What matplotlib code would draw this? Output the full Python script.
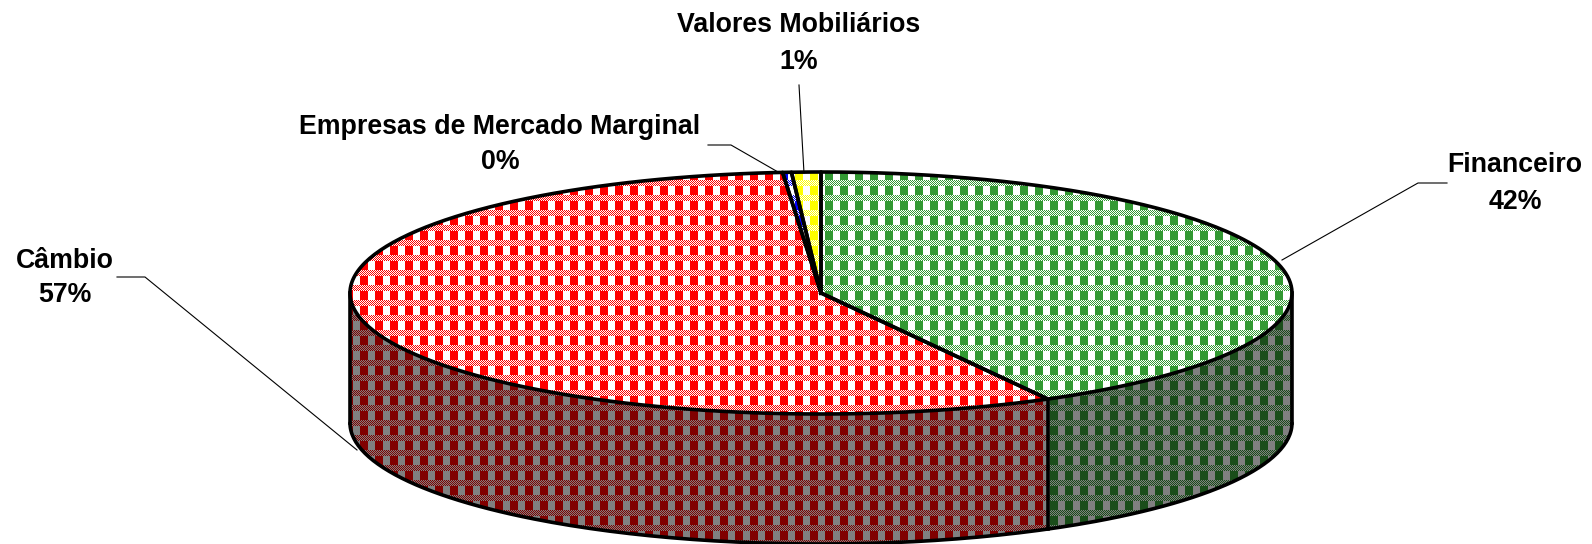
import numpy as np
import matplotlib
matplotlib.use('Agg')
import matplotlib.pyplot as plt
from matplotlib.path import Path
from matplotlib.patches import PathPatch

# ---- data ----
labels = ['Financeiro', 'Câmbio', 'Empresas de Mercado Marginal', 'Valores Mobiliários']
values = [42.0, 56.7, 0.3, 1.0]
top_colors = [(51, 153, 51), (255, 0, 0), (0, 0, 255), (255, 255, 0)]
side_colors = [(26, 77, 26), (128, 0, 0), (0, 0, 128), (128, 128, 0)]

# ---- layout (pixel coordinates) ----
W, H = 1592, 544
cx, cy, a, b, depth = 821, 293, 471, 121, 130
label_pos = {
    'Financeiro': (1515, 165, 202),
    'Câmbio': (65, 261, 295),
    'Empresas de Mercado Marginal': (500, 127, 162),
    'Valores Mobiliários': (799, 25, 62),
}
leaders = {
    'Financeiro': [(1447, 183), (1418, 183), (1282, 260)],
    'Câmbio': [(117, 277), (145, 277), (357, 450)],
    'Empresas de Mercado Marginal': [(708, 145), (731, 145), (778, 172)],
    'Valores Mobiliários': [(799, 85), (804, 173)],
}

fig = plt.figure(figsize=(W / 100, H / 100), dpi=100)
ax = fig.add_axes([0, 0, 1, 1])
ax.set_xlim(0, W)
ax.set_ylim(H, 0)
ax.axis('off')

yy, xx = np.mgrid[0:H, 0:W]
P = 15
col = (xx % P) < 8
band = (yy % P) < 6
dither = ((xx + yy) % 2) == 0
pat = np.where(band, dither | (col & ((xx % 2) == 0) & ((yy % 2) == 0)), col)


def texture(fg, bg):
    img = np.where(pat[..., None], np.array(fg, dtype=np.uint8), np.array(bg, dtype=np.uint8))
    return img.astype(np.uint8)


def arc(t1, t2, dy=0, n=200):
    t = np.radians(np.linspace(t1, t2, n))
    return np.column_stack([cx + a * np.sin(t), cy - b * np.cos(t) + dy])


def fill_textured(verts, fg, bg, z):
    path = Path(np.vstack([verts, verts[:1]]), closed=True)
    patch = PathPatch(path, facecolor='none', edgecolor='none', transform=ax.transData)
    ax.add_patch(patch)
    im = ax.imshow(texture(fg, bg), extent=(0, W, H, 0), interpolation='nearest',
                   zorder=z, aspect='auto')
    im.set_clip_path(patch)
    return path


total = sum(values)
bounds = np.concatenate([[0], np.cumsum(values) / total * 360])
LW = 2.6

# side walls (visible front half: 90..270 deg)
for i in range(len(values)):
    t1, t2 = max(bounds[i], 90), min(bounds[i + 1], 270)
    if t2 <= t1:
        continue
    top = arc(t1, t2)
    bot = arc(t2, t1, dy=depth)
    fill_textured(np.vstack([top, bot]), side_colors[i], (128, 128, 128), 1)

# side outlines
bx = arc(90, 270, dy=depth)
ax.plot(bx[:, 0], bx[:, 1], color='black', lw=LW, zorder=2, solid_capstyle='round')
for t in [90, 270] + [bb for bb in bounds if 90 < bb < 270]:
    x0, y0 = arc(t, t, n=1)[0]
    ax.plot([x0, x0], [y0, y0 + depth], color='black', lw=LW, zorder=2)

# top faces
for i in range(len(values)):
    ar = arc(bounds[i], bounds[i + 1])
    verts = np.vstack([[[cx, cy]], ar])
    fill_textured(verts, top_colors[i], (255, 255, 255), 3)
    closed = np.vstack([verts, verts[:1]])
    ax.plot(closed[:, 0], closed[:, 1], color='black', lw=LW, zorder=4,
            solid_joinstyle='round')

# labels and leader lines
font = dict(family=['Liberation Sans', 'DejaVu Sans'], weight='bold', size=19.3)
for lab, v in zip(labels, values):
    x, y1, y2 = label_pos[lab]
    ax.text(x, y1, lab, ha='center', va='center', zorder=5, **font)
    ax.text(x, y2, f"{round(v)}%", ha='center', va='center', zorder=5, **font)
    pts = np.array(leaders[lab])
    ax.plot(pts[:, 0], pts[:, 1], color='black', lw=0.8, zorder=5)

fig.savefig('out.png', dpi=100)
